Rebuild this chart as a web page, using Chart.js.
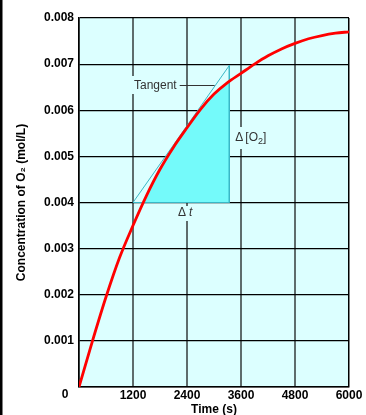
<!DOCTYPE html>
<html>
<head>
<meta charset="utf-8">
<script src="https://cdn.jsdelivr.net/npm/chart.js@4"></script>
<style>
  html, body { margin: 0; padding: 0; background: #fff; }
  canvas { display: block; }
</style>
</head>
<body>
<canvas id="o2-chart" width="366" height="415"></canvas>
<script>
// Curve: time (s) vs O2 concentration (mol/L)
const times = [0, 300, 600, 900, 1200, 1500, 1800, 2100, 2400, 2700, 3000,
               3300, 3600, 3900, 4200, 4500, 4800, 5100, 5400, 5700, 6000];
const concentrations = [0, 0.001, 0.00195, 0.0028, 0.0035, 0.00415, 0.00472, 0.0052,
                        0.00562, 0.00602, 0.00635, 0.0066, 0.0068, 0.007, 0.00718,
                        0.00733, 0.00745, 0.00755, 0.00762, 0.00767, 0.0077];

// Tangent triangle corners (start, top, right foot, back to start)
const triangleTimes = [1200, 3340, 3340, 1200];
const triangleValues = [0.004, 0.00697, 0.004, 0.004];

// Axis ticks
const xTicks = [0, 1200, 2400, 3600, 4800, 6000];
const yTicks = [0, 0.001, 0.002, 0.003, 0.004, 0.005, 0.006, 0.007, 0.008];

const plotBg = '#dcffff';
const shadeColor = '#74fafa';
const tangentColor = '#3ab7c6';
const tickFont = { family: '"Liberation Sans", Arial, sans-serif', size: 12, weight: 'bold' };
const titleFont = { family: '"Liberation Sans", Arial, sans-serif', size: 12, weight: 'bold', lineHeight: 1 };
const noteFont = '12px "Liberation Sans", Arial, sans-serif';

const curvePoints = times.map((t, i) => ({ x: t, y: concentrations[i] }));
const trianglePoints = triangleTimes.map((t, i) => ({ x: t, y: triangleValues[i] }));

// plot background + clipping of the shaded area to the triangle's time range
const plotPlugin = {
    id: 'plotPlugin',
    beforeDraw(chart) {
        const { ctx, chartArea: a } = chart;
        ctx.save();
        ctx.fillStyle = '#fff';
        ctx.fillRect(0, 0, chart.width, chart.height);
        ctx.fillStyle = plotBg;
        ctx.fillRect(a.left, a.top, a.right - a.left, a.bottom - a.top);
        ctx.restore();
    },
    beforeDatasetsDraw(chart) {
        const { ctx, chartArea: a, scales } = chart;
        const x0 = scales.x.getPixelForValue(triangleTimes[0]);
        const x1 = scales.x.getPixelForValue(triangleTimes[1]);
        ctx.save();
        ctx.beginPath();
        ctx.rect(x0, a.top, x1 - x0, a.bottom - a.top);
        ctx.clip();
    },
    afterDatasetDraw(chart, args) {
        if (args.index === 0) chart.ctx.restore();
    },
    afterDatasetsDraw(chart) {
        const { ctx, chartArea: a, scales } = chart;
        const xs = scales.x, ys = scales.y;
        ctx.save();
        ctx.font = noteFont;
        ctx.textBaseline = 'middle';

        // "Tangent" label with leader line to the tangent
        const tx0 = xs.getPixelForValue(triangleTimes[0]), ty0 = ys.getPixelForValue(triangleValues[0]);
        const tx1 = xs.getPixelForValue(triangleTimes[1]), ty1 = ys.getPixelForValue(triangleValues[1]);
        const labelY = 85;
        const hitX = tx0 + (tx1 - tx0) * (ty0 - labelY) / (ty0 - ty1);
        const labelX = tx0 + 1;
        const w = ctx.measureText('Tangent').width;
        ctx.fillStyle = plotBg;
        ctx.fillRect(labelX - 3, labelY - 9, w + 5, 18);
        ctx.fillStyle = '#333';
        ctx.fillText('Tangent', labelX, labelY + 0.5);
        ctx.strokeStyle = '#333';
        ctx.lineWidth = 1;
        ctx.beginPath();
        ctx.moveTo(labelX + w + 3, labelY + 0.5);
        ctx.lineTo(hitX - 1, labelY + 0.5);
        ctx.stroke();

        // Δ[O2] label right of the triangle
        let dx = tx1 + 6, dy = 138;
        ctx.fillStyle = plotBg;
        ctx.fillRect(dx - 2, dy - 11, 40, 22);
        ctx.fillStyle = '#333';
        ctx.fillText('\u0394', dx, dy);
        dx += ctx.measureText('\u0394').width + 2;
        ctx.fillText('[O', dx, dy);
        dx += ctx.measureText('[O').width;
        ctx.font = '9px "Liberation Sans", Arial, sans-serif';
        ctx.fillText('2', dx, dy + 4);
        dx += ctx.measureText('2').width;
        ctx.font = noteFont;
        ctx.fillText(']', dx, dy);

        // Δt label below the triangle
        const cx = xs.getPixelForValue(2400) - 9, cy = 213;
        ctx.fillStyle = plotBg;
        ctx.fillRect(cx - 2, cy - 7, 20, 15);
        ctx.fillStyle = '#333';
        ctx.fillText('\u0394', cx, cy);
        ctx.font = 'italic ' + noteFont;
        ctx.fillText('t', cx + ctx.measureText('\u0394').width + 3, cy);

        // shared origin label
        ctx.font = 'bold 12px "Liberation Sans", Arial, sans-serif';
        ctx.fillStyle = '#000';
        ctx.textAlign = 'center';
        ctx.fillText('0', a.left - 14, a.bottom + 8);

        // dark strip on the left edge
        ctx.fillRect(0, 0, 2.5, chart.height);
        ctx.restore();
    }
};

const chart = new Chart(document.getElementById('o2-chart'), {
    type: 'line',
    data: {
        datasets: [
            {
                // shaded area under the curve, inside the triangle
                data: curvePoints,
                borderWidth: 0,
                pointRadius: 0,
                cubicInterpolationMode: 'monotone',
                fill: { value: 0.004, above: shadeColor, below: 'rgba(0,0,0,0)' },
                backgroundColor: shadeColor,
                order: 3
            },
            {
                data: trianglePoints,
                borderColor: tangentColor,
                borderWidth: 1,
                pointRadius: 0,
                fill: false,
                order: 2
            },
            {
                data: curvePoints,
                borderColor: '#ff0000',
                borderWidth: 2.8,
                pointRadius: 0,
                cubicInterpolationMode: 'monotone',
                fill: false,
                order: 1
            }
        ]
    },
    options: {
        responsive: false,
        animation: false,
        devicePixelRatio: 1,
        layout: { padding: { left: 0, right: 17, top: 18, bottom: 0 } },
        plugins: {
            legend: { display: false },
            tooltip: { enabled: false }
        },
        scales: {
            x: {
                type: 'linear',
                min: 0,
                max: 6000,
                afterBuildTicks: (scale) => { scale.ticks = xTicks.map(v => ({ value: v })); },
                afterFit: (scale) => { scale.height = 28; },
                ticks: {
                    color: '#000',
                    font: tickFont,
                    padding: 1,
                    maxRotation: 0,
                    callback: (v) => (v === 0 ? '' : String(v))
                },
                grid: {
                    drawTicks: false,
                    color: (c) => (c.tick && (c.tick.value === 0 || c.tick.value === 6000) ? '#000' : '#5e6c6c'),
                    lineWidth: (c) => (c.tick && (c.tick.value === 0 || c.tick.value === 6000) ? 1.5 : 2)
                },
                border: { color: '#000', width: 1.5 },
                title: {
                    display: true,
                    text: 'Time (s)',
                    color: '#000',
                    font: titleFont,
                    padding: { top: 0, bottom: -1 }
                }
            },
            y: {
                min: 0,
                max: 0.008,
                afterBuildTicks: (scale) => { scale.ticks = yTicks.map(v => ({ value: v })); },
                afterFit: (scale) => { scale.width = 79; },
                ticks: {
                    color: '#000',
                    font: tickFont,
                    padding: 5,
                    callback: (v) => (v === 0 ? '' : v.toFixed(3))
                },
                grid: {
                    drawTicks: false,
                    color: '#000',
                    lineWidth: 1.2
                },
                border: { color: '#000', width: 1.5 },
                title: {
                    display: true,
                    text: 'Concentration of O\u2082 (mol/L)',
                    color: '#000',
                    font: titleFont,
                    padding: { top: 16, bottom: 0 }
                }
            }
        }
    },
    plugins: [plotPlugin]
});
</script>
</body>
</html>
